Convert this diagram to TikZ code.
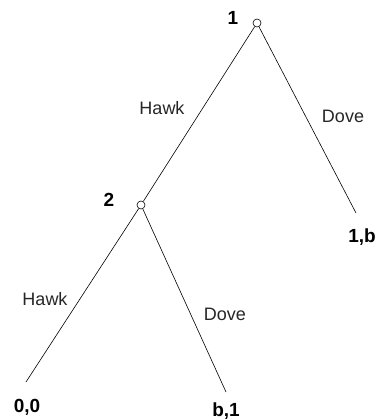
\documentclass[tikz,border=0pt]{standalone}
\usepackage{fontspec}
\setmainfont{Liberation Sans}

\begin{document}
\begin{tikzpicture}[x=1pt, y=-1pt, line width=0.6pt,
  dec/.style={circle, draw, fill=white, inner sep=0pt, minimum size=8pt},
  lbl/.style={font=\fontsize{19}{19}\selectfont\bfseries, inner sep=0pt, anchor=base},
  move/.style={font=\fontsize{18}{18}\selectfont, text=black!85, inner sep=0pt, anchor=base}]
  \useasboundingbox (0,0) rectangle (380,419);
  \node[dec] (n1) at (257,23) {};
  \node[dec] (n2) at (141,205) {};
  \coordinate (e1) at (356,213);
  \coordinate (e2) at (26,382);
  \coordinate (e3) at (226,392);
  \draw (n1) -- (n2);
  \draw (n1) -- (e1);
  \draw (n2) -- (e2);
  \draw (n2) -- (e3);
  \node[lbl] (p1) at (233,25) {1};
  \node[lbl] (p2) at (109,207) {2};
  \node[lbl] (o1) at (362,242) {1,b};
  \node[lbl] (o2) at (27,412) {0,0};
  \node[lbl] (o3) at (226,416) {b,1};
  \node[move] (h1) at (162,115) {Hawk};
  \node[move] (d1) at (343,123) {Dove};
  \node[move] (h2) at (45,305) {Hawk};
  \node[move] (d2) at (225,320) {Dove};
\end{tikzpicture}
\end{document}
